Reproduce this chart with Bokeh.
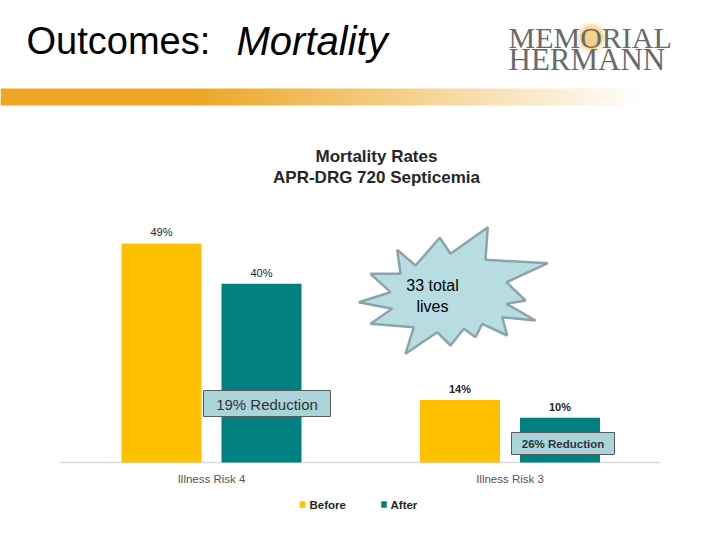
import numpy as np
from bokeh.plotting import figure
from bokeh.models import Range1d
from bokeh.core.properties import value
from bokeh.embed import file_html
from bokeh.resources import INLINE

# ---------------- data ----------------
categories = ["Illness Risk 4", "Illness Risk 3"]
series = ["Before", "After"]
before = [49, 14]
after = [40, 10]
before_labels = ["49%", "14%"]
after_labels = ["40%", "10%"]
reductions = ["19% Reduction", "26% Reduction"]
chart_title = ["Mortality Rates", "APR-DRG 720 Septicemia"]
callout = ["33 total", "lives"]

# ---------------- styles ----------------
C_BEFORE = "#FFC000"
C_AFTER = "#008080"
FONT = value("Liberation Sans")
SERIF = value("Liberation Serif")

W, H = 704, 524
X0, Y0 = 0, 0
p = figure(width=W, height=H, x_range=Range1d(X0, X0 + W), y_range=Range1d(Y0 + H, Y0),
           output_backend="svg", toolbar_location=None, min_border=0,
           x_axis_location=None, y_axis_location=None)
p.grid.visible = False
p.outline_line_color = None
p.background_fill_color = "white"
p.border_fill_color = "white"

# data scales for the chart (pixel-aligned frame)
k = 4.47          # px per percent
base_y = 462      # baseline pixel
g0, gs = 211, 298.5   # group centre px and spacing px
p.extra_y_ranges = {"pct": Range1d(start=(base_y - (Y0 + H)) / k, end=(base_y - Y0) / k)}
p.extra_x_ranges = {"grp": Range1d(start=(X0 - g0) / gs, end=(X0 + W - g0) / gs)}
off = 50 / gs
bw = 80 / gs

# ---------------- header ----------------
p.text(x=[26], y=[40], text=["Outcomes:"], text_font=FONT, text_font_size="38px",
       text_color="black", text_baseline="middle", text_align="left")
p.text(x=[236], y=[40], text=["Mortality"], text_font=FONT, text_font_size="40px",
       text_font_style="italic", text_color="black", text_baseline="middle", text_align="left")

# logo glow
for r, a in [(16, 0.12), (13.5, 0.2), (11.5, 0.3), (9, 0.2)]:
    p.circle(x=[591], y=[37], radius=r, fill_color="#F0B43A", fill_alpha=a, line_color=None)
p.text(x=[508], y=[37], text=["MEMORIAL"], text_font=SERIF, text_font_size="30px",
       text_color="#6a6a6a", text_baseline="middle")
p.text(x=[508], y=[58.5], text=["HERMANN"], text_font=SERIF, text_font_size="31px",
       text_color="#6a6a6a", text_baseline="middle")

# gradient band
N = W
xs = np.arange(N) + X0
t = np.clip((xs - 190) / (640 - 190), 0, 1)
orange = np.array([236, 166, 36], dtype=float)
white = np.array([255, 255, 255], dtype=float)
rgb = orange[None, :] * (1 - t[:, None]) + white[None, :] * t[:, None]
img = np.empty((1, N), dtype=np.uint32)
view = img.view(dtype=np.uint8).reshape((1, N, 4))
view[0, :, 0:3] = rgb.astype(np.uint8)
view[0, :, 3] = 255
p.image_rgba(image=[img], x=X0, y=88, dw=W, dh=17)

# ---------------- chart ----------------
p.text(x=[376, 376], y=[156, 177], text=chart_title, text_font=FONT, text_font_size="17px",
       text_font_style="bold", text_color="#262626", text_align="center", text_baseline="middle")

# baseline
p.segment(x0=[60], x1=[660], y0=[0], y1=[0], line_color="#d9d9d9", line_width=1.5,
          y_range_name="pct")

gx = np.arange(len(categories))
p.vbar(x=gx - off, top=before, bottom=0, width=bw, fill_color=C_BEFORE, line_color=None,
       x_range_name="grp", y_range_name="pct")
p.vbar(x=gx + off, top=after, bottom=0, width=bw, fill_color=C_AFTER, line_color=None,
       x_range_name="grp", y_range_name="pct")

# value labels
p.text(x=[gx[0] - off, gx[0] + off], y=[before[0], after[0]],
       text=[before_labels[0], after_labels[0]], text_font=FONT, text_font_size="11px",
       text_color="#262626", text_align="center", text_baseline="middle", y_offset=-11,
       x_range_name="grp", y_range_name="pct")
p.text(x=[gx[1] - off, gx[1] + off], y=[before[1], after[1]],
       text=[before_labels[1], after_labels[1]], text_font=FONT, text_font_size="11px",
       text_font_style="bold", text_color="#262626", text_align="center", text_baseline="middle",
       y_offset=-11, x_range_name="grp", y_range_name="pct")

# category labels
p.text(x=gx, y=[0, 0], text=categories, text_font=FONT, text_font_size="11.5px",
       text_color="#555555", text_align="center", text_baseline="middle", y_offset=16,
       x_range_name="grp", y_range_name="pct")

# legend
p.rect(x=[302, 383.5], y=[504, 504], width=5.5, height=6.5,
       fill_color=[C_BEFORE, C_AFTER], line_color=None)
p.text(x=[309, 390], y=[504, 504], text=series, text_font=FONT, text_font_size="11.5px",
       text_font_style="bold", text_color="#262626", text_baseline="middle", text_align="left")

# starburst callout
star_x = [396.7, 415, 439.3, 450, 487.3, 485, 547.3, 506, 525, 506, 535, 501.7, 506.7,
          481.7, 475, 463.3, 450, 436.7, 405, 413.3, 370, 391.7, 358.3, 390, 370, 400]
star_y = [249.3, 265, 237.3, 253.3, 226.7, 259.3, 262.7, 281.7, 300, 303.3, 320, 316.7, 335,
          323.3, 336.7, 328.3, 345, 331.7, 353.3, 326.7, 323.3, 308.3, 301.7, 291.7, 273.3, 273.3]
p.patch(x=star_x, y=star_y, fill_color="#B7DDE3", line_color="#8DA3AA", line_width=2.5)
p.text(x=[432, 432], y=[285, 306], text=callout, text_font=FONT, text_font_size="16px",
       text_color="black", text_align="center", text_baseline="middle")

# reduction boxes
p.quad(left=[203, 511], right=[330, 614], top=[390, 432], bottom=[416, 454],
       fill_color="#A9D5DA", line_color="#5a5a5a", line_width=1)
p.text(x=[266.5], y=[403.5], text=[reductions[0]], text_font=FONT, text_font_size="15px",
       text_color="#333333", text_align="center", text_baseline="middle")
p.text(x=[562.5], y=[443.5], text=[reductions[1]], text_font=FONT, text_font_size="11.5px",
       text_font_style="bold", text_color="#333333", text_align="center", text_baseline="middle")

open("out.html", "w").write(file_html(p, INLINE))
